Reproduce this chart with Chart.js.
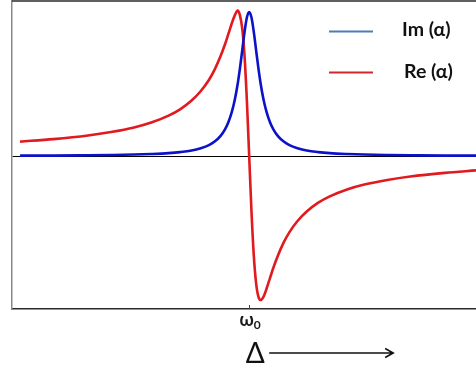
<!DOCTYPE html>
<html>
<head>
<meta charset="utf-8">
<script src="https://cdn.jsdelivr.net/npm/chart.js@4/dist/chart.umd.min.js"></script>
<style>
  html, body { margin: 0; padding: 0; background: #fff; }
  #wrap { width: 476px; height: 371px; }
</style>
</head>
<body>
<div id="wrap"><canvas id="c" width="476" height="371"></canvas></div>
<script>
// Detuning from resonance, in units of the half-width
const detuning = [-19.9, -17, -14, -12, -10, -8.5, -7, -6, -5, -4.2, -3.5, -3, -2.5, -2.1, -1.8, -1.5, -1.25, -1, -0.8, -0.6, -0.4, -0.2,
  0,
  0.2, 0.4, 0.6, 0.8, 1, 1.25, 1.5, 1.8, 2.1, 2.5, 3, 3.5, 4.2, 5, 6, 7, 8.5, 10, 12, 14, 17, 19.7];

// Absorptive part (normalised)
const imAlpha = [0.003, 0.003, 0.005, 0.007, 0.010, 0.014, 0.020, 0.027, 0.038, 0.054, 0.075, 0.100, 0.138, 0.185, 0.236, 0.308, 0.390, 0.500, 0.610, 0.735, 0.862, 0.962,
  1.000,
  0.962, 0.862, 0.735, 0.610, 0.500, 0.390, 0.308, 0.236, 0.185, 0.138, 0.100, 0.075, 0.054, 0.038, 0.027, 0.020, 0.014, 0.010, 0.007, 0.005, 0.003, 0.003];

// Dispersive part (normalised)
const reAlpha = [0.100, 0.117, 0.142, 0.166, 0.198, 0.232, 0.280, 0.324, 0.385, 0.451, 0.528, 0.600, 0.690, 0.776, 0.849, 0.923, 0.976, 1.010, 0.976, 0.882, 0.690, 0.385,
  0,
  -0.385, -0.690, -0.882, -0.976, -1.000, -0.976, -0.923, -0.849, -0.776, -0.690, -0.600, -0.528, -0.451, -0.385, -0.324, -0.280, -0.232, -0.198, -0.166, -0.142, -0.117, -0.100];

const seriesLabels = ['Im (α)', 'Re (α)'];
const xTickValues = [0];
const xTickSymbol = 'ω';
const xTickSubscript = '0';
const xAxisLabel = 'Δ';

const curveColors = ['#0c12c8', '#e01a1e'];
const legendColors = ['#4a7ebb', '#d2262b'];

function toPoints(ys) {
  return detuning.map((x, i) => ({ x: x, y: ys[i] }));
}

// Frame, inward tick mark with its label, legend and the Δ arrow
const decorations = {
  id: 'decorations',
  afterDraw(chart) {
    const ctx = chart.ctx;
    const area = chart.chartArea;
    const xs = chart.scales.x;
    ctx.save();

    // top edge of the frame
    ctx.strokeStyle = '#2a2a2a';
    ctx.lineWidth = 1.5;
    ctx.beginPath();
    ctx.moveTo(area.left, area.top);
    ctx.lineTo(area.right, area.top);
    ctx.stroke();

    // inward tick at resonance
    const x0 = xs.getPixelForValue(xTickValues[0]);
    ctx.strokeStyle = '#444';
    ctx.lineWidth = 1;
    ctx.beginPath();
    ctx.moveTo(Math.round(x0) + 0.5, area.bottom);
    ctx.lineTo(Math.round(x0) + 0.5, area.bottom - 4);
    ctx.stroke();

    // tick label: ω with subscript 0
    ctx.fillStyle = '#1a1a1a';
    ctx.textBaseline = 'alphabetic';
    ctx.textAlign = 'left';
    ctx.font = 'bold 18px Lato, "Open Sans", sans-serif';
    const wSym = ctx.measureText(xTickSymbol).width;
    ctx.font = 'bold 12px Lato, "Open Sans", sans-serif';
    const wSub = ctx.measureText(xTickSubscript).width;
    const startX = x0 - (wSym + wSub) / 2 + 1;
    ctx.font = 'bold 18px Lato, "Open Sans", sans-serif';
    ctx.fillText(xTickSymbol, startX, 326);
    ctx.font = 'bold 12px Lato, "Open Sans", sans-serif';
    ctx.fillText(xTickSubscript, startX + wSym, 329);

    // legend
    const rows = [31.5, 72.5];
    chart.data.datasets.forEach((ds, i) => {
      const y = rows[i];
      ctx.strokeStyle = legendColors[i];
      ctx.lineWidth = 2;
      ctx.beginPath();
      ctx.moveTo(329, y);
      ctx.lineTo(373, y);
      ctx.stroke();
      ctx.fillStyle = '#111';
      ctx.font = 'bold 19.5px Lato, "Open Sans", sans-serif';
      ctx.textAlign = 'left';
      ctx.textBaseline = 'middle';
      ctx.fillText(ds.label, 402 + i * 2, y - 2 + i * 1);
    });

    // Δ with arrow to the right
    ctx.fillStyle = '#111';
    ctx.font = '28px Lato, "Open Sans", sans-serif';
    ctx.textAlign = 'center';
    ctx.textBaseline = 'alphabetic';
    ctx.fillText(xAxisLabel, x0 + 6, 363);
    ctx.strokeStyle = '#111';
    ctx.lineWidth = 1.6;
    ctx.beginPath();
    ctx.moveTo(x0 + 20, 353);
    ctx.lineTo(x0 + 144, 353);
    ctx.moveTo(x0 + 136, 348.5);
    ctx.lineTo(x0 + 144, 353);
    ctx.lineTo(x0 + 136, 357.5);
    ctx.stroke();

    ctx.restore();
  }
};

new Chart(document.getElementById('c'), {
  type: 'line',
  data: {
    datasets: [
      { label: seriesLabels[0], data: toPoints(imAlpha), borderColor: curveColors[0], borderWidth: 2.6,
        pointRadius: 0, cubicInterpolationMode: 'monotone', fill: false },
      { label: seriesLabels[1], data: toPoints(reAlpha), borderColor: curveColors[1], borderWidth: 2.6,
        pointRadius: 0, cubicInterpolationMode: 'monotone', fill: false }
    ]
  },
  options: {
    responsive: false,
    animation: false,
    layout: { padding: { left: 12, top: 1, right: 0, bottom: 0 } },
    plugins: { legend: { display: false }, tooltip: { enabled: false } },
    scales: {
      x: {
        type: 'linear',
        min: -20.6,
        max: 19.7,
        afterFit(s) { s.height = 62; },
        afterBuildTicks(s) { s.ticks = xTickValues.map(v => ({ value: v })); },
        grid: { display: true, drawOnChartArea: false, drawTicks: false },
        border: { display: true, color: '#2a2a2a', width: 1.5 },
        ticks: { display: false }
      },
      y: {
        type: 'linear',
        min: -1.062,
        max: 1.076,
        afterFit(s) { s.width = 0; },
        afterBuildTicks(s) { s.ticks = [{ value: 0 }]; },
        grid: {
          drawTicks: false,
          color: c => (c.tick && c.tick.value === 0 ? '#000' : 'rgba(0,0,0,0)'),
          lineWidth: 1
        },
        border: { display: true, color: '#8a8a8a', width: 1.5 },
        ticks: { display: false }
      }
    }
  },
  plugins: [decorations]
});
</script>
</body>
</html>
